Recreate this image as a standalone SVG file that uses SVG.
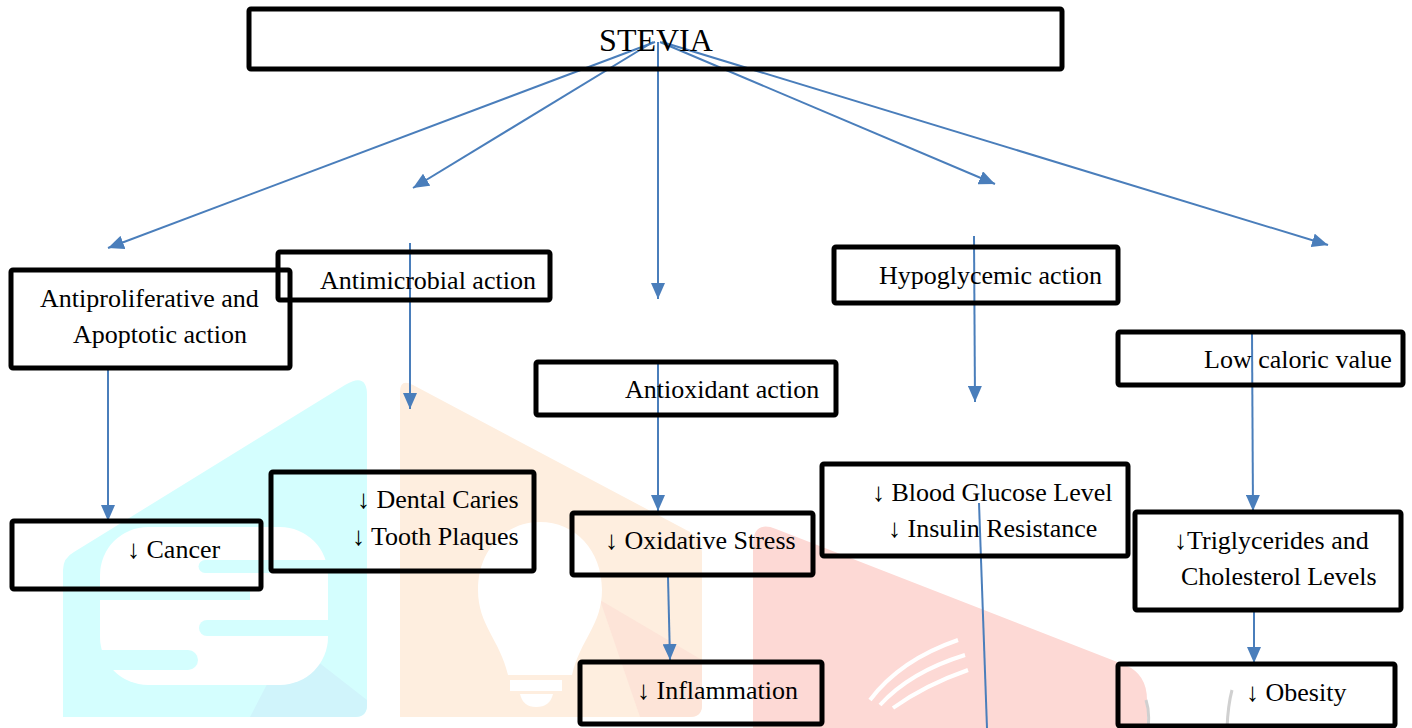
<svg xmlns="http://www.w3.org/2000/svg" width="1412" height="728" viewBox="0 0 1412 728">
<defs>
<style>
.box{fill:none;stroke:#000;stroke-width:5;}
.t{font-family:"Liberation Serif","Times New Roman",serif;font-size:26px;fill:#000;}
.c{fill:none;stroke:#4a7ebb;stroke-width:2;}
.wm{stroke:none;}
</style>
<marker id="ah" markerUnits="userSpaceOnUse" markerWidth="16" markerHeight="14" viewBox="0 0 16 14" refX="16" refY="7" orient="auto">
<path d="M0,0 L16,7 L0,14 Z" fill="#4a7ebb"/>
</marker>
</defs>
<rect width="1412" height="728" fill="#fff"/>
<g id="watermark">
<path class="wm" fill="#d4fefe" d="M63,717 L63,570 Q63,558 74,552 L345,385 Q367,372 367,395 L367,705 Q367,717 355,717 Z"/>
<path class="wm" fill="#d0f4fb" d="M290,640 L367,700 L367,705 Q367,717 355,717 L250,717 Z"/>
<rect class="wm" fill="#fff" x="100" y="527" width="228" height="158" rx="48"/>
<path class="wm" fill="#d4fefe" d="M205,560 L330,560 L330,573 L205,573 A6.5,6.5 0 0 1 205,560 Z"/>
<path class="wm" fill="#d4fefe" d="M100,587 L250,587 L250,600 L100,600 Z"/>
<path class="wm" fill="#d4fefe" d="M207,620 L330,620 L330,636 L207,636 A8,8 0 0 1 207,620 Z"/>
<path class="wm" fill="#d4fefe" d="M100,650 L188,650 A10,10 0 0 1 188,670 L100,670 Z"/>
<path class="wm" fill="#feeedf" d="M400,717 L400,392 Q400,378 413,385 L690,532 Q702,539 702,552 L702,705 Q702,717 690,717 Z"/>
<path class="wm" fill="#fde4d8" d="M600,600 L702,660 L702,705 Q702,717 690,717 L640,717 Z"/>
<path class="wm" fill="#fff" d="M508,675 C500,640 478,625 478,590 C478,550 505,522 540,522 C575,522 602,550 602,590 C602,625 580,640 572,675 Z"/>
<rect class="wm" fill="#fff" x="510" y="680" width="52" height="11"/>
<path class="wm" fill="#fff" d="M520,694 L553,694 Q550,707 536,707 Q523,707 520,694 Z"/>
<path class="wm" fill="#fdd9d5" d="M753,728 L753,545 Q753,520 776,529 L1125,665 Q1147,674 1147,700 L1147,728 Z"/>
<path fill="none" stroke="#fff" stroke-width="4" d="M870,700 Q900,660 958,640 M880,705 Q910,672 965,655 M893,708 Q925,685 968,670"/>
<path fill="none" stroke="#d0d0d0" stroke-width="3" d="M1227,728 Q1228,705 1232,690 M1148,728 Q1150,712 1146,700"/>
</g>
<g id="connectors">
<line class="c" x1="655" y1="42" x2="108" y2="248" marker-end="url(#ah)"/>
<line class="c" x1="653" y1="42" x2="413" y2="188" marker-end="url(#ah)"/>
<line class="c" x1="658" y1="42" x2="658" y2="299" marker-end="url(#ah)"/>
<line class="c" x1="660" y1="42" x2="995" y2="184" marker-end="url(#ah)"/>
<line class="c" x1="662" y1="42" x2="1328" y2="245" marker-end="url(#ah)"/>
<line class="c" x1="410" y1="243" x2="410" y2="409" marker-end="url(#ah)"/>
<line class="c" x1="108" y1="370" x2="108" y2="521" marker-end="url(#ah)"/>
<line class="c" x1="658" y1="363" x2="658" y2="511" marker-end="url(#ah)"/>
<line class="c" x1="668" y1="577" x2="670" y2="660" marker-end="url(#ah)"/>
<line class="c" x1="974" y1="236" x2="975" y2="402" marker-end="url(#ah)"/>
<line class="c" x1="979" y1="503" x2="987" y2="728"/>
<line class="c" x1="1252" y1="333" x2="1253" y2="511" marker-end="url(#ah)"/>
<line class="c" x1="1254" y1="612" x2="1254" y2="663" marker-end="url(#ah)"/>
</g>
<g id="stevia">
<rect class="box" x="249" y="9" width="813" height="60" rx="2"/>
<text class="t" x="656" y="51" text-anchor="middle" style="font-size:32px">STEVIA</text>
</g>
<g id="antiproliferative">
<rect class="box" x="11" y="270" width="279" height="98" rx="2"/>
<text class="t" x="40" y="307">Antiproliferative and</text>
<text class="t" x="73" y="343">Apoptotic action</text>
</g>
<g id="antimicrobial">
<rect class="box" x="278" y="252" width="272" height="48" rx="2"/>
<text class="t" x="320" y="289">Antimicrobial action</text>
</g>
<g id="antioxidant">
<rect class="box" x="536" y="362" width="300" height="53" rx="2"/>
<text class="t" x="625" y="398">Antioxidant action</text>
</g>
<g id="hypoglycemic">
<rect class="box" x="834" y="247" width="284" height="56" rx="2"/>
<text class="t" x="879" y="284">Hypoglycemic action</text>
</g>
<g id="lowcaloric">
<rect class="box" x="1118" y="332" width="285" height="53" rx="2"/>
<text class="t" x="1204" y="368">Low caloric value</text>
</g>
<g id="cancer">
<rect class="box" x="12" y="521" width="249" height="68" rx="2"/>
<text class="t" x="127" y="558">↓ Cancer</text>
</g>
<g id="dental">
<rect class="box" x="271" y="472" width="263" height="99" rx="2"/>
<text class="t" x="357" y="508">↓ Dental Caries</text>
<text class="t" x="352" y="545">↓ Tooth Plaques</text>
</g>
<g id="oxidative">
<rect class="box" x="572" y="513" width="241" height="62" rx="2"/>
<text class="t" x="605" y="549">↓ Oxidative Stress</text>
</g>
<g id="inflammation">
<rect class="box" x="580" y="662" width="242" height="62" rx="2"/>
<text class="t" x="637" y="699">↓ Inflammation</text>
</g>
<g id="bloodglucose">
<rect class="box" x="822" y="464" width="306" height="92" rx="2"/>
<text class="t" x="872" y="501">↓ Blood Glucose Level</text>
<text class="t" x="888" y="537">↓ Insulin Resistance</text>
</g>
<g id="triglycerides">
<rect class="box" x="1135" y="512" width="266" height="98" rx="2"/>
<text class="t" x="1174" y="549">↓Triglycerides and</text>
<text class="t" x="1181" y="585">Cholesterol Levels</text>
</g>
<g id="obesity">
<rect class="box" x="1118" y="664" width="277" height="62" rx="2"/>
<text class="t" x="1246" y="701">↓ Obesity</text>
</g>
</svg>
